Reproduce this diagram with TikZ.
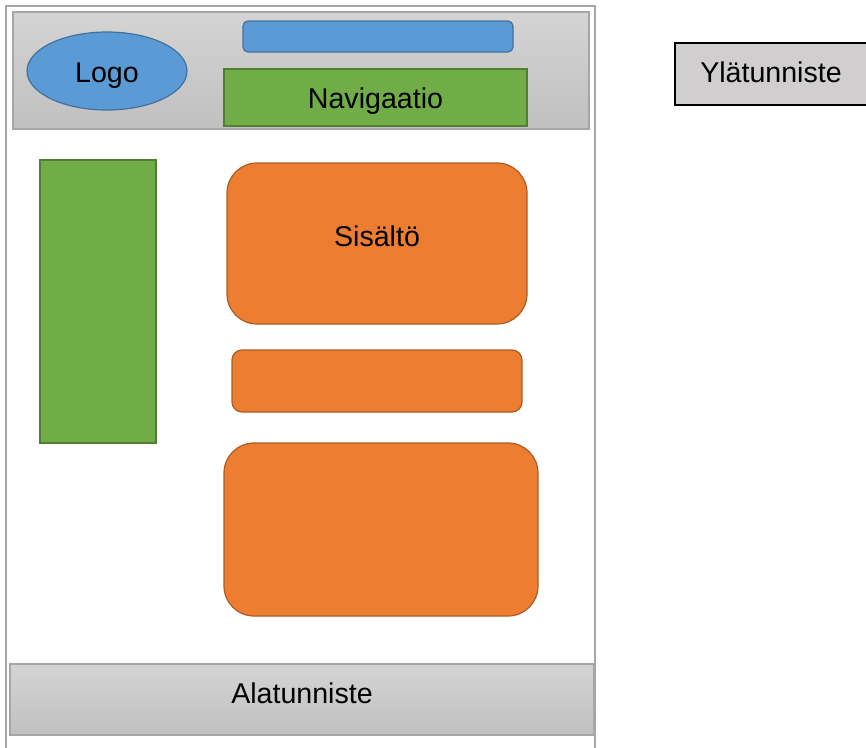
\documentclass[tikz,border=0pt]{standalone}
\usepackage{fontspec}
\setmainfont{Liberation Sans}
\usetikzlibrary{shapes.geometric}
\definecolor{kehys}{RGB}{166,166,166}
\definecolor{harmaa1}{RGB}{212,212,212}
\definecolor{harmaa2}{RGB}{192,192,192}
\definecolor{sininen}{RGB}{91,155,213}
\definecolor{sininenreuna}{RGB}{65,113,156}
\definecolor{vihrea}{RGB}{112,173,71}
\definecolor{vihreareuna}{RGB}{80,126,50}
\definecolor{oranssi}{RGB}{237,125,49}
\definecolor{oranssireuna}{RGB}{174,90,33}
\definecolor{selite}{RGB}{208,206,206}

\begin{document}
\begin{tikzpicture}[x=1pt,y=-1pt,
    every node/.style={inner sep=0pt,outer sep=0pt,text depth=0pt,font=\fontsize{28.6}{32}\selectfont},
    palkki/.style={rectangle,draw=kehys,line width=1.2pt,top color=harmaa1,bottom color=harmaa2},
    sin/.style={draw=sininenreuna,fill=sininen,line width=1.2pt},
    vih/.style={rectangle,draw=vihreareuna,fill=vihrea,line width=1.2pt},
    ora/.style={rectangle,draw=oranssireuna,fill=oranssi,line width=1.2pt,rounded corners=#1},
    ora/.default=30pt]
    \useasboundingbox (0,0) rectangle (866,747);
    % sivun kehys
    \draw[kehys,line width=2pt] (6,760) -- (6,6) -- (595,6) -- (595,760);
    % ylätunniste
    \node[palkki,minimum width=576,minimum height=117] (ylapalkki) at (301,70.5) {};
    \node[sin,ellipse,minimum width=160,minimum height=78,text height=22pt] (logo) at (107,71) {Logo};
    \node[sin,rectangle,rounded corners=5pt,minimum width=270,minimum height=31] (haku) at (378,36.5) {};
    \node[vih,minimum width=303,minimum height=57,text height=21pt] (navi) at (375.5,97.5) {Navigaatio};
    % sivupalkki ja sisältö
    \node[vih,minimum width=116,minimum height=283] (sivupalkki) at (98,301.5) {};
    \node[ora,minimum width=300,minimum height=161,text height=5pt] (sisalto) at (377,243.5) {Sisältö};
    \node[ora=10pt,minimum width=290,minimum height=62] (sisalto2) at (377,381) {};
    \node[ora,minimum width=314,minimum height=173] (sisalto3) at (381,529.5) {};
    % alatunniste
    \node[palkki,minimum width=584,minimum height=71,text height=7pt] (alapalkki) at (302,699.5) {Alatunniste};
    % selite
    \node[rectangle,draw=black,line width=1.4pt,fill=selite,minimum width=192,minimum height=62,text height=16pt,anchor=west] (selite) at (675,74) {Ylätunniste};
\end{tikzpicture}
\end{document}
